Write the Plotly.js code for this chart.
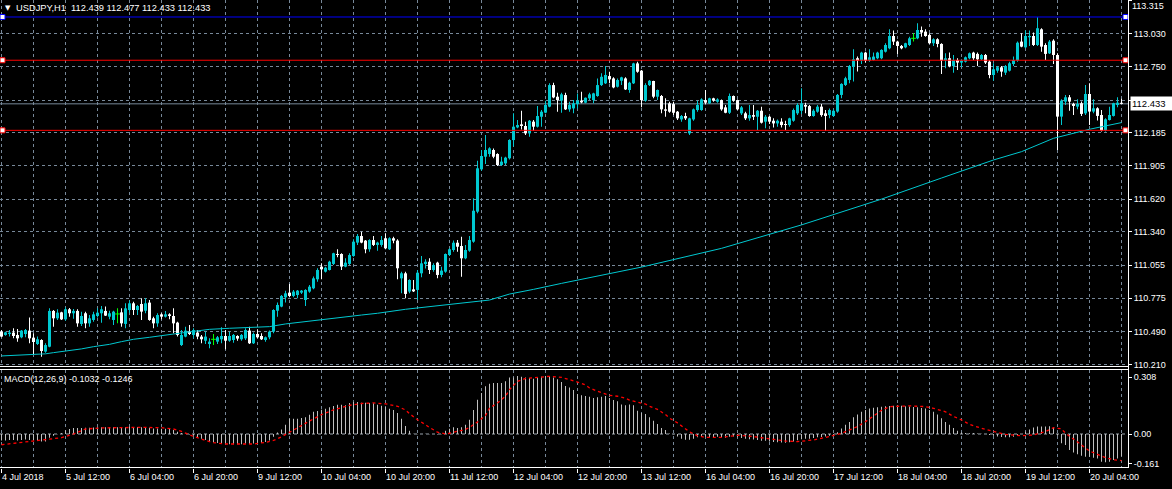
<!DOCTYPE html>
<html><head><meta charset="utf-8">
<script src="https://cdn.plot.ly/plotly-3.0.1.min.js"></script>
<style>html,body{margin:0;padding:0;background:#000;overflow:hidden}#chart{width:1172px;height:489px}</style>
</head><body><div id="chart"></div>
<script>
// ---- data (USDJPY H1, one value per hourly bar) ----
const openP = [110.489,110.461,110.469,110.481,110.461,110.441,110.469,110.498,110.438,110.384,
110.418,110.319,110.361,110.666,110.603,110.654,110.594,110.680,110.646,110.666,
110.555,110.646,110.560,110.589,110.623,110.646,110.666,110.617,110.589,110.640,
110.654,110.555,110.674,110.731,110.674,110.725,110.668,110.737,110.603,110.560,
110.637,110.617,110.637,110.623,110.566,110.375,110.447,110.489,110.461,110.481,
110.447,110.412,110.384,110.424,110.404,110.424,110.452,110.412,110.418,110.452,
110.424,110.432,110.498,110.390,110.469,110.452,110.418,110.441,110.489,110.668,
110.703,110.782,110.822,110.794,110.802,110.822,110.759,110.831,110.859,110.936,
111.044,111.001,111.015,111.067,111.152,111.152,111.044,111.067,111.135,111.249,
111.305,111.266,111.192,111.271,111.229,111.229,111.286,111.192,111.286,111.266,
110.944,110.987,110.831,110.850,110.845,110.987,111.066,111.086,111.015,111.078,
110.973,111.001,111.143,111.186,111.248,111.220,111.115,111.180,111.257,111.513,
111.874,111.982,112.005,112.039,112.005,111.911,111.925,111.968,112.124,112.232,
112.258,112.244,112.181,112.281,112.238,112.323,112.358,112.409,112.593,112.494,
112.460,112.508,112.386,112.394,112.431,112.460,112.443,112.480,112.465,112.500,
112.593,112.608,112.670,112.650,112.579,112.630,112.650,112.551,112.608,112.778,
112.716,112.460,112.593,112.628,112.494,112.500,112.386,112.437,112.431,112.366,
112.300,112.329,112.181,112.300,112.380,112.380,112.465,112.437,112.480,112.451,
112.465,112.403,112.357,112.500,112.465,112.352,112.352,112.309,112.337,112.323,
112.374,112.281,112.323,112.289,112.266,112.281,112.261,112.252,112.289,112.352,
112.374,112.423,112.414,112.329,112.366,112.409,112.352,112.337,112.329,112.367,
112.509,112.594,112.637,112.751,112.822,112.802,112.870,112.802,112.807,112.822,
112.822,112.878,112.907,113.012,112.964,112.927,112.915,112.935,112.992,112.992,
113.063,113.049,113.021,112.950,112.984,112.944,112.802,112.822,112.756,112.807,
112.785,112.793,112.822,112.870,112.859,112.813,112.850,112.793,112.679,112.716,
112.745,112.699,112.716,112.773,112.802,112.964,112.915,113.001,113.012,112.935,
113.069,112.935,112.864,112.972,112.850,112.324,112.452,112.489,112.432,112.409,
112.438,112.352,112.517,112.367,112.395,112.338,112.204,112.295,112.330,112.423,
112.439];
const highP = [110.503,110.489,110.503,110.518,110.512,110.503,110.512,110.611,110.475,110.447,
110.424,110.390,110.688,110.674,110.680,110.660,110.697,110.691,110.683,110.680,
110.660,110.660,110.631,110.660,110.688,110.708,110.703,110.668,110.668,110.688,
110.688,110.731,110.754,110.745,110.717,110.774,110.774,110.760,110.617,110.646,
110.646,110.666,110.646,110.688,110.574,110.503,110.532,110.546,110.518,110.503,
110.461,110.489,110.432,110.469,110.452,110.526,110.503,110.489,110.469,110.458,
110.469,110.518,110.532,110.481,110.509,110.475,110.447,110.498,110.680,110.737,
110.802,110.839,110.896,110.845,110.845,110.845,110.850,110.887,110.959,111.030,
111.072,111.044,111.095,111.163,111.192,111.158,111.115,111.158,111.277,111.323,
111.342,111.271,111.277,111.305,111.257,111.305,111.328,111.294,111.300,111.277,
111.001,111.001,110.936,110.930,111.015,111.135,111.106,111.115,111.072,111.086,
111.044,111.157,111.200,111.266,111.271,111.300,111.229,111.305,111.627,111.948,
112.039,112.167,112.062,112.053,112.011,111.982,111.982,112.130,112.352,112.295,
112.375,112.281,112.295,112.295,112.414,112.380,112.460,112.608,112.613,112.528,
112.528,112.528,112.451,112.465,112.522,112.536,112.488,112.528,112.528,112.650,
112.693,112.755,112.707,112.659,112.650,112.664,112.659,112.622,112.784,112.792,
112.721,112.608,112.636,112.630,112.556,112.508,112.480,112.451,112.451,112.372,
112.337,112.357,112.315,112.394,112.460,112.480,112.551,112.485,112.485,112.480,
112.471,112.423,112.522,112.505,112.471,112.414,112.366,112.423,112.423,112.380,
112.409,112.337,112.329,112.309,112.300,112.309,112.289,112.315,112.394,112.437,
112.565,112.443,112.423,112.386,112.423,112.431,112.380,112.394,112.386,112.517,
112.608,112.665,112.765,112.898,112.836,112.878,112.878,112.898,112.870,112.878,
112.898,112.950,113.069,113.058,112.972,112.935,112.955,113.006,113.035,113.120,
113.092,113.069,113.035,112.992,112.992,112.950,112.864,112.870,112.850,112.822,
112.813,112.836,112.870,112.878,112.870,112.859,112.859,112.807,112.779,112.756,
112.756,112.765,112.793,112.836,112.964,113.035,113.058,113.058,113.041,113.171,
113.078,112.950,112.978,112.984,112.864,112.472,112.509,112.509,112.443,112.472,
112.452,112.594,112.608,112.472,112.404,112.381,112.310,112.409,112.443,112.489,
112.477];
const lowP = [110.441,110.455,110.447,110.432,110.404,110.432,110.441,110.390,110.299,110.375,
110.276,110.310,110.356,110.532,110.589,110.589,110.583,110.617,110.600,110.532,
110.538,110.518,110.532,110.574,110.611,110.566,110.623,110.594,110.546,110.560,
110.532,110.518,110.651,110.631,110.631,110.589,110.646,110.583,110.518,110.532,
110.594,110.611,110.594,110.475,110.447,110.367,110.441,110.461,110.432,110.424,
110.390,110.384,110.347,110.375,110.384,110.390,110.339,110.404,110.395,110.412,
110.412,110.418,110.384,110.384,110.432,110.418,110.404,110.424,110.475,110.617,
110.697,110.737,110.782,110.782,110.774,110.811,110.708,110.822,110.850,110.916,
110.936,110.993,111.010,111.058,111.123,111.015,111.038,111.058,111.129,111.229,
111.243,111.158,111.172,111.220,111.180,111.214,111.192,111.186,111.243,110.936,
110.816,110.774,110.816,110.828,110.759,110.953,111.029,110.981,111.001,110.944,
110.953,110.992,111.135,111.172,111.172,110.958,111.106,111.172,111.248,111.499,
111.863,111.920,111.982,111.968,111.903,111.903,111.911,111.959,112.068,112.224,
112.215,112.167,112.153,112.204,112.232,112.238,112.352,112.403,112.480,112.366,
112.357,112.380,112.366,112.352,112.394,112.437,112.437,112.465,112.437,112.494,
112.585,112.602,112.608,112.565,112.573,112.593,112.551,112.528,112.602,112.699,
112.403,112.451,112.585,112.480,112.465,112.352,112.323,112.357,112.337,112.295,
112.281,112.295,112.167,112.289,112.366,112.374,112.431,112.431,112.451,112.443,
112.374,112.352,112.346,112.451,112.380,112.337,112.295,112.289,112.295,112.209,
112.266,112.224,112.261,112.232,112.238,112.232,112.209,112.238,112.281,112.337,
112.346,112.352,112.323,112.323,112.357,112.323,112.204,112.309,112.323,112.358,
112.480,112.586,112.608,112.623,112.708,112.773,112.785,112.793,112.802,112.813,
112.813,112.870,112.898,112.935,112.859,112.898,112.907,112.927,112.964,112.984,
113.006,113.006,112.944,112.927,112.915,112.688,112.736,112.745,112.699,112.722,
112.745,112.785,112.813,112.807,112.756,112.807,112.773,112.651,112.631,112.699,
112.665,112.679,112.708,112.756,112.793,112.915,112.907,112.927,112.927,112.927,
112.878,112.807,112.859,112.773,112.040,112.253,112.423,112.375,112.338,112.386,
112.330,112.338,112.253,112.352,112.290,112.196,112.196,112.290,112.324,112.404,
112.433];
const closeP = [110.447,110.483,110.481,110.452,110.432,110.498,110.503,110.432,110.401,110.424,
110.324,110.375,110.666,110.603,110.651,110.594,110.680,110.646,110.666,110.560,
110.623,110.560,110.603,110.637,110.651,110.680,110.626,110.646,110.660,110.640,
110.560,110.688,110.731,110.674,110.708,110.660,110.731,110.589,110.560,110.631,
110.617,110.637,110.623,110.560,110.461,110.461,110.498,110.469,110.503,110.447,
110.424,110.447,110.404,110.424,110.441,110.452,110.412,110.452,110.461,110.430,
110.461,110.503,110.390,110.469,110.441,110.424,110.441,110.489,110.674,110.717,
110.794,110.816,110.794,110.831,110.839,110.839,110.845,110.873,110.944,111.015,
111.021,111.035,111.086,111.158,111.143,111.044,111.078,111.143,111.257,111.305,
111.249,111.192,111.271,111.229,111.249,111.271,111.200,111.286,111.266,111.030,
110.987,110.811,110.930,110.833,110.992,111.072,111.086,111.015,111.058,110.973,
111.010,111.152,111.192,111.248,111.214,111.115,111.186,111.271,111.521,111.883,
111.988,112.039,112.053,111.982,111.911,111.940,111.974,112.124,112.238,112.252,
112.244,112.181,112.289,112.238,112.329,112.366,112.423,112.593,112.488,112.465,
112.514,112.386,112.423,112.437,112.460,112.445,112.485,112.514,112.522,112.593,
112.664,112.679,112.642,112.573,112.636,112.659,112.556,112.613,112.778,112.707,
112.465,112.593,112.630,112.494,112.551,112.386,112.374,112.366,112.357,112.309,
112.329,112.309,112.309,112.386,112.423,112.471,112.443,112.480,112.460,112.471,
112.386,112.357,112.500,112.460,112.386,112.403,112.309,112.337,112.323,112.374,
112.272,112.323,112.281,112.266,112.289,112.252,112.252,112.309,112.380,112.423,
112.437,112.409,112.329,112.374,112.409,112.337,112.329,112.380,112.374,112.509,
112.603,112.651,112.756,112.813,112.802,112.870,112.802,112.830,112.836,112.870,
112.893,112.935,113.012,112.964,112.927,112.907,112.950,112.992,112.992,113.063,
113.041,113.012,112.950,112.984,112.944,112.802,112.822,112.756,112.807,112.785,
112.802,112.830,112.864,112.822,112.813,112.850,112.785,112.679,112.728,112.745,
112.708,112.756,112.779,112.807,112.955,112.921,113.012,113.012,112.935,113.078,
112.921,112.859,112.964,112.850,112.324,112.460,112.489,112.452,112.415,112.432,
112.347,112.517,112.367,112.395,112.330,112.204,112.301,112.338,112.438,112.443,
112.433];

// moving average (cyan line), sampled bars and values
const maBars = [0,7,11,13,17,20,23,27,30,33,37,40,43,47,52,57,64,67,71,74,77,80,84,87,90,94,97,101,122,127,133,140,160,180,200,220,235,248,255,263,272,276,280];
const maVals = [110.282,110.290,110.300,110.310,110.327,110.342,110.361,110.381,110.404,110.424,110.441,110.452,110.469,110.487,110.509,110.518,110.526,110.532,110.555,110.566,110.580,110.589,110.603,110.617,110.631,110.646,110.660,110.680,110.759,110.810,110.850,110.901,111.040,111.200,111.400,111.620,111.800,111.954,112.025,112.139,112.216,112.244,112.273];

// MACD(12,26,9) main histogram, one per bar
const macdMain = [-0.035,-0.035,-0.033,-0.033,-0.035,-0.033,-0.030,-0.032,-0.035,-0.036,
-0.040,-0.040,-0.020,-0.010,-0.002,0.005,0.020,0.027,0.032,0.033,
0.033,0.034,0.034,0.035,0.036,0.037,0.037,0.036,0.036,0.036,
0.035,0.037,0.039,0.038,0.038,0.037,0.038,0.034,0.030,0.030,
0.029,0.028,0.027,0.022,0.012,0.005,0.002,-0.003,-0.010,-0.018,
-0.026,-0.033,-0.040,-0.045,-0.049,-0.052,-0.054,-0.055,-0.056,-0.056,
-0.055,-0.053,-0.054,-0.052,-0.050,-0.047,-0.043,-0.035,-0.015,0.008,
0.025,0.050,0.083,0.083,0.083,0.086,0.090,0.104,0.120,0.124,
0.131,0.137,0.144,0.151,0.158,0.158,0.155,0.167,0.173,0.173,
0.169,0.169,0.167,0.166,0.158,0.153,0.146,0.137,0.130,0.114,
0.083,0.043,0.018,0.002,-0.002,0.000,0.001,-0.001,0.000,-0.003,
-0.002,0.018,0.029,0.036,0.032,0.036,0.050,0.077,0.130,0.185,
0.222,0.258,0.272,0.276,0.276,0.276,0.285,0.306,0.306,0.314,
0.310,0.306,0.303,0.299,0.303,0.310,0.314,0.314,0.306,0.296,
0.281,0.260,0.252,0.238,0.216,0.209,0.205,0.202,0.195,0.198,
0.202,0.205,0.195,0.184,0.177,0.159,0.155,0.159,0.155,0.126,
0.113,0.108,0.090,0.072,0.054,0.032,0.022,0.003,-0.002,-0.013,
-0.025,-0.031,-0.031,-0.025,-0.018,-0.015,-0.015,-0.017,-0.016,-0.015,
-0.017,-0.020,-0.015,-0.014,-0.018,-0.022,-0.026,-0.028,-0.030,-0.032,
-0.036,-0.037,-0.040,-0.043,-0.045,-0.046,-0.047,-0.045,-0.040,-0.034,
-0.028,-0.025,-0.025,-0.022,-0.018,-0.016,-0.014,-0.010,-0.005,0.010,
0.030,0.050,0.065,0.090,0.105,0.120,0.130,0.138,0.142,0.144,
0.147,0.150,0.152,0.153,0.155,0.153,0.150,0.148,0.146,0.144,
0.140,0.138,0.130,0.120,0.105,0.085,0.065,0.050,0.032,0.018,
0.008,0.005,0.004,0.005,0.003,0.002,0.000,-0.005,-0.010,-0.014,
-0.016,-0.018,-0.017,-0.015,-0.008,0.000,0.012,0.025,0.035,0.040,
0.040,0.040,0.042,0.038,-0.010,-0.050,-0.060,-0.087,-0.100,-0.110,
-0.117,-0.123,-0.123,-0.128,-0.132,-0.150,-0.153,-0.150,-0.140,-0.132,
-0.120];
// MACD signal line (red dotted), sampled
const signalBars = [0,8,15,18,21,25,30,35,40,43,45,48,51,53,56,60,63,66,68,70,73,77,80,83,87,90,93,96,99,101,102,104,106,107,109,111,112,114,116,117,119,121,122,124,126,127,129,131,134,137,140,142,144,146,147,149,151,152,154,156,157,159,161,162,164,166,167,169,171,172,174,176,180,184,188,192,196,199,203,207,210,212,214,216,218,220,222,224,227,231,233,236,238,240,242,245,248,251,255,258,261,263,265,266,268,270,272,274,276,278,280];
const signalVals = [-0.058,-0.036,-0.020,0.000,0.027,0.033,0.035,0.036,0.034,0.027,0.014,-0.013,-0.035,-0.047,-0.054,-0.056,-0.054,-0.045,-0.035,-0.015,0.023,0.070,0.105,0.130,0.155,0.165,0.168,0.163,0.150,0.130,0.110,0.077,0.050,0.035,0.010,0.000,0.004,0.014,0.025,0.036,0.065,0.100,0.140,0.168,0.204,0.240,0.285,0.300,0.306,0.312,0.306,0.294,0.281,0.265,0.249,0.231,0.215,0.209,0.204,0.193,0.183,0.173,0.162,0.150,0.133,0.105,0.086,0.060,0.030,0.012,-0.010,-0.018,-0.018,-0.007,-0.014,-0.027,-0.038,-0.041,-0.032,-0.014,0.003,0.022,0.040,0.067,0.100,0.128,0.148,0.151,0.152,0.148,0.139,0.120,0.095,0.076,0.052,0.031,0.013,-0.002,-0.009,-0.005,0.013,0.034,0.028,0.004,-0.027,-0.059,-0.092,-0.110,-0.128,-0.139,-0.144];

// axis labels
const timeLabelBars = [0,16,32,48,64,80,96,112,128,144,160,176,192,208,224,240,256,272];
const timeLabels = ['4 Jul 2018','5 Jul 12:00','6 Jul 04:00','6 Jul 20:00','9 Jul 12:00','10 Jul 04:00','10 Jul 20:00','11 Jul 12:00','12 Jul 04:00','12 Jul 20:00','13 Jul 12:00','16 Jul 04:00','16 Jul 20:00','17 Jul 12:00','18 Jul 04:00','18 Jul 20:00','19 Jul 12:00','20 Jul 04:00'];
const priceTicks = [113.315,113.030,112.750,112.465,112.185,111.905,111.620,111.340,111.055,110.775,110.490,110.210];
const macdTicks = [0.308,0,-0.161];
const macdTickText = ['0.308','0.00','-0.161'];
// horizontal objects
const resistLevel = 112.805, supportLevel = 112.207, blueLevel = 113.174, bidPrice = 112.433;
const headerText = 'USDJPY,H1\u00a0\u00a0112.439 112.477 112.433 112.433';
const macdText = 'MACD(12,26,9) -0.1032 -0.1246';

// ---- styles ----
const BULL = '#00c8d0', BEAR = '#ffffff', DOJI = '#00ff00', GRID = '#778899';
const FONT = 'Liberation Sans, Arial, sans-serif';
const W = 1172, H = 489, ML = 0, MR = 44, MT = 0, MB = 21;
const PW = W - ML - MR, PH = H - MT - MB;
const mainBottomPx = 366, macdTopPx = 369.5;

const idx = openP.map((_, i) => i);
const bull = idx.filter(i => closeP[i] > openP[i]);
const bear = idx.filter(i => closeP[i] < openP[i]);
const doji = idx.filter(i => closeP[i] === openP[i]);

function wick(ids, color) {
  return {type:'bar', x: ids, base: ids.map(i => lowP[i]), y: ids.map(i => highP[i] - lowP[i]),
    width: 0.25, marker:{color: color, line:{width:0}}, xaxis:'x', yaxis:'y', hoverinfo:'skip'};
}
function body(ids, color) {
  return {type:'bar', x: ids, base: ids.map(i => Math.min(openP[i], closeP[i])),
    y: ids.map(i => Math.max(Math.abs(closeP[i] - openP[i]), 0.009)),
    width: 0.75, marker:{color: color, line:{width:0}}, xaxis:'x', yaxis:'y', hoverinfo:'skip'};
}

const traces = [
  wick(bull, BULL), wick(bear, BEAR), wick(doji, DOJI),
  body(bull, BULL), body(bear, BEAR),
  {type:'scatter', mode:'markers', x: doji, y: doji.map(i => closeP[i]), xaxis:'x', yaxis:'y',
   marker:{symbol:'line-ew', size:3.5, line:{width:1, color:DOJI}}, hoverinfo:'skip'},
  {type:'scatter', mode:'lines', x: maBars, y: maVals, xaxis:'x', yaxis:'y',
   line:{color:BULL, width:1}, hoverinfo:'skip'},
  {type:'bar', x: idx, y: macdMain, width: 0.25, xaxis:'x', yaxis:'y2',
   marker:{color:'#c0c0c0', line:{width:0}}, hoverinfo:'skip'},
  {type:'scatter', mode:'lines', x: signalBars, y: signalVals, xaxis:'x', yaxis:'y2',
   line:{color:'#ff0000', width:1.3, dash:'3px,3px'}, hoverinfo:'skip'}
];

// pixel helpers for layout geometry only
const xr0 = -0.375, xr1 = xr0 + PW / 4;           // 4 px per bar
const pxPerPrice = 117.2;
const yTop = 113.319, yBot = yTop - mainBottomPx / pxPerPrice;
const macdPx = 185, macdZeroPx = 434;
const y2Top = (macdZeroPx - macdTopPx) / macdPx, y2Bot = (macdZeroPx - PH) / macdPx;

function pyPaper(px) { return 1 - px / PH; }
function square(level, color, side) {
  const x0 = side === 'l' ? 0 : (PW - 5) / PW, x1 = side === 'l' ? 5 / PW : 1;
  return {type:'rect', xref:'paper', yref:'y', x0:x0, x1:x1, ysizemode:'pixel', yanchor:level, y0:-2.5, y1:2.5,
    fillcolor:'#ffffff', line:{color:color, width:1}};
}
// the top price label sits at the very edge; it is drawn as an annotation just inside the picture,
// and the 112.465 label sits under the current-price box in the reference
const hiddenTickLabels = [113.315, 112.465];

const layout = {
  width: W, height: H, margin:{l:ML, r:MR, t:MT, b:MB, pad:0},
  paper_bgcolor:'#000000', plot_bgcolor:'#000000', showlegend:false, barmode:'overlay',
  hovermode:false, font:{family:FONT, size:9, color:'#ffffff'},
  xaxis:{range:[xr0, xr1], anchor:'y2', tickmode:'array', tickvals: timeLabelBars, ticktext: timeLabels,
    ticks:'outside', ticklen:4, tickcolor:'#ffffff', ticklabelposition:'outside right',
    tickfont:{family:FONT, size:9, color:'#ffffff'},
    showgrid:true, gridcolor:GRID, griddash:'3px,3px', gridwidth:1,
    minor:{tickmode:'linear', tick0:0, dtick:8, showgrid:true, gridcolor:GRID, griddash:'3px,3px', gridwidth:1, ticks:''},
    zeroline:false, showline:false, fixedrange:true},
  yaxis:{domain:[1 - mainBottomPx / PH, 1], range:[yBot, yTop], side:'right', anchor:'x',
    tickmode:'array', tickvals: priceTicks,
    ticktext: priceTicks.map(v => hiddenTickLabels.some(h => Math.abs(v - h) < 1e-6) ? '' : v.toFixed(3)),
    ticks:'outside', ticklen:3, tickcolor:'#ffffff', tickfont:{family:FONT, size:9, color:'#ffffff'},
    showgrid:true, gridcolor:GRID, griddash:'3px,3px', gridwidth:1, zeroline:false, showline:false, fixedrange:true},
  yaxis2:{domain:[0, 1 - macdTopPx / PH], range:[y2Bot, y2Top], side:'right', anchor:'x',
    tickmode:'array', tickvals: macdTicks, ticktext: macdTickText,
    ticks:'outside', ticklen:3, tickcolor:'#ffffff', tickfont:{family:FONT, size:9, color:'#ffffff'},
    showgrid:false, zeroline:false, showline:false, fixedrange:true},
  shapes:[
    {type:'line', xref:'paper', yref:'y', x0:0, x1:1, y0:bidPrice, y1:bidPrice, line:{color:GRID, width:1}, layer:'below'},
    {type:'line', xref:'paper', yref:'y2', x0:0, x1:1, y0:0, y1:0, line:{color:'#9aa4ae', width:1, dash:'3px,3px'}, layer:'below'},
    {type:'line', xref:'paper', yref:'y', x0:0, x1:1, y0:resistLevel, y1:resistLevel, line:{color:'#ff0000', width:1}},
    {type:'line', xref:'paper', yref:'y', x0:0, x1:1, y0:supportLevel, y1:supportLevel, line:{color:'#ff0000', width:1}},
    {type:'line', xref:'paper', yref:'y', x0:0, x1:1, y0:blueLevel, y1:blueLevel, line:{color:'#0000ff', width:1}},
    square(resistLevel, '#ff0000', 'l'), square(resistLevel, '#ff0000', 'r'),
    square(supportLevel, '#ff0000', 'l'), square(supportLevel, '#ff0000', 'r'),
    square(blueLevel, '#0000ff', 'l'), square(blueLevel, '#0000ff', 'r'),
    {type:'line', xref:'paper', yref:'paper', x0:(PW + 0.5) / PW, x1:(PW + 0.5) / PW, y0:0, y1:1, line:{color:'#ffffff', width:1}},
    {type:'line', xref:'paper', yref:'paper', x0:0, x1:1, y0:pyPaper(mainBottomPx + 0.5), y1:pyPaper(mainBottomPx + 0.5), line:{color:'#ffffff', width:1}},
    {type:'line', xref:'paper', yref:'paper', x0:0, x1:1, y0:pyPaper(macdTopPx), y1:pyPaper(macdTopPx), line:{color:'#ffffff', width:1}},
    {type:'line', xref:'paper', yref:'paper', x0:0, x1:1, y0:0.5 / PH, y1:0.5 / PH, line:{color:'#ffffff', width:1}}
  ],
  annotations:[
    {xref:'paper', yref:'paper', x:3 / PW, y:pyPaper(8), xanchor:'left', yanchor:'middle', showarrow:false,
     text:'\u25bc', font:{family:'DejaVu Sans', size:7, color:'#ffffff'}},
    {xref:'paper', yref:'paper', x:14 / PW, y:pyPaper(8), xanchor:'left', yanchor:'middle', showarrow:false,
     text: headerText, font:{family:FONT, size:9.3, color:'#ffffff'}},
    {xref:'paper', yref:'paper', x:2 / PW, y:pyPaper(378.5), xanchor:'left', yanchor:'middle', showarrow:false,
     text: macdText, font:{family:FONT, size:9, color:'#ffffff'}},
    {xref:'paper', yref:'paper', x:(PW + 3) / PW, y:1, xanchor:'left', yanchor:'top', showarrow:false,
     text: priceTicks[0].toFixed(3), borderpad:0, font:{family:FONT, size:9, color:'#ffffff'}},
    {xref:'paper', yref:'y', x:(PW + 2) / PW, y:bidPrice, xanchor:'left', yanchor:'middle', showarrow:false,
     text: bidPrice.toFixed(3), bgcolor:'#ffffff', borderpad:1, width:40, align:'left',
     font:{family:FONT, size:9.5, color:'#000000'}}
  ]
};

Plotly.newPlot('chart', traces, layout, {staticPlot:true, displayModeBar:false});
</script>
</body></html>
